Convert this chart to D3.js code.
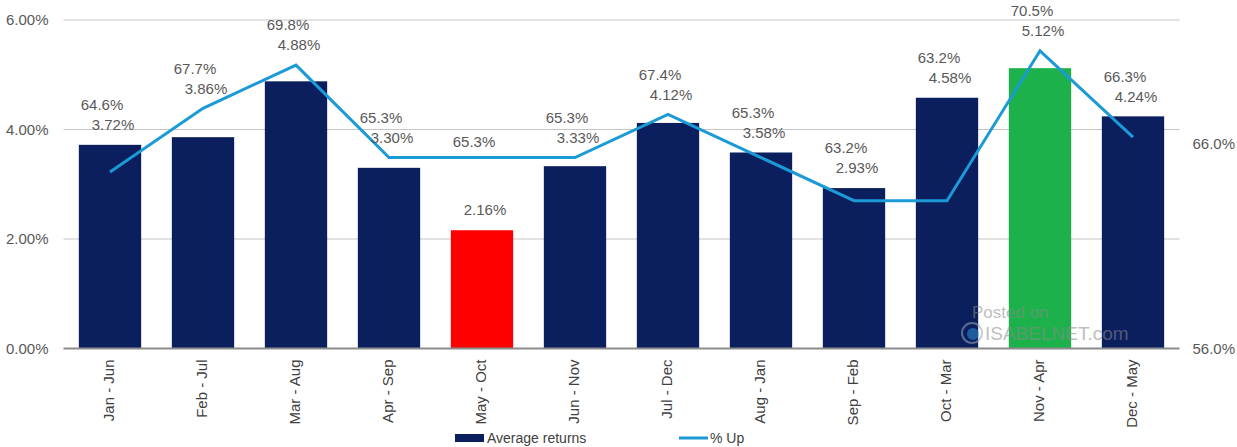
<!DOCTYPE html>
<html><head><meta charset="utf-8">
<script src="https://cdn.jsdelivr.net/npm/d3@7"></script>
<style>
html,body{margin:0;padding:0;background:#fff;}
svg{display:block;}
text{font-family:"Liberation Sans Narrow","Liberation Sans",Arial,sans-serif;}
</style></head>
<body>
<svg id="chart" width="1237" height="447"></svg>
<script>
const categories = ["Jan - Jun","Feb - Jul","Mar - Aug","Apr - Sep","May - Oct","Jun - Nov","Jul - Dec","Aug - Jan","Sep - Feb","Oct - Mar","Nov - Apr","Dec - May"];
const avgReturns = [3.72,3.86,4.88,3.30,2.16,3.33,4.12,3.58,2.93,4.58,5.12,4.24];
const pctUp = [64.6,67.7,69.8,65.3,65.3,65.3,67.4,65.3,63.2,63.2,70.5,66.3];
const leftTicks = [0,2,4,6];
const rightTicks = [56,66];
const highlight = {"May - Oct":"#ff0000","Nov - Apr":"#1db14b"};

const svg = d3.select("#chart");
const W = 1237, H = 447;
const plot = {left:63.5, right:1179.5, top:20, bottom:348.5};

const x = d3.scaleBand().domain(categories).range([plot.left, plot.right]).paddingInner(0.33).paddingOuter(0.165);
const yL = d3.scaleLinear().domain([0,6]).range([plot.bottom, plot.top]);
const yR = d3.scaleLinear().domain([56,72]).range([plot.bottom, plot.top]);
const cx = c => x(c) + x.bandwidth()/2;

const font = "Liberation Sans Narrow, Liberation Sans, Arial, sans-serif";
const textCol = "#595959";

// gridlines
svg.append("g").selectAll("line").data(leftTicks.filter(d=>d>0)).join("line")
  .attr("x1", plot.left).attr("x2", plot.right)
  .attr("y1", d=>yL(d)).attr("y2", d=>yL(d))
  .attr("stroke","#c6c6c6").attr("stroke-width",1.2);

// left axis labels
const axL = d3.axisLeft(yL).tickValues(leftTicks).tickFormat(d=>d3.format(".2f")(d)+"%").tickSize(0).tickPadding(15);
const gL = svg.append("g").attr("transform",`translate(${plot.left},0)`).call(axL);
gL.select(".domain").remove();
gL.selectAll("text").attr("font-size",15).attr("fill",textCol).style("font-family",font);

// right axis labels
const axR = d3.axisRight(yR).tickValues(rightTicks).tickFormat(d=>d3.format(".1f")(d)+"%").tickSize(0).tickPadding(13);
const gR = svg.append("g").attr("transform",`translate(${plot.right},0)`).call(axR);
gR.select(".domain").remove();
gR.selectAll("text").attr("font-size",15).attr("fill",textCol).style("font-family",font);

// bars
svg.append("g").selectAll("rect").data(categories).join("rect")
  .attr("x", c=>x(c)).attr("width", x.bandwidth())
  .attr("y", (c,i)=>yL(avgReturns[i]))
  .attr("height", (c,i)=>yL(0)-yL(avgReturns[i]))
  .attr("fill", c=>highlight[c] || "#0b1f5e");

// baseline axis
svg.append("line").attr("x1",plot.left).attr("x2",plot.right)
  .attr("y1",yL(0)).attr("y2",yL(0)).attr("stroke","#8c8c8c").attr("stroke-width",2);

// x labels
const axB = d3.axisBottom(x).tickSize(0).tickPadding(0);
const gB = svg.append("g").attr("transform",`translate(0,${plot.bottom})`).call(axB);
gB.select(".domain").remove();
gB.selectAll("text")
  .attr("font-size",15).attr("fill","#404040").style("font-family",font)
  .attr("text-anchor","end").attr("dy",null).attr("y",0)
  .attr("transform","translate(0,11) rotate(-90)")
  .attr("dominant-baseline","middle");

// line
const line = d3.line().x((d,i)=>cx(categories[i])).y(d=>yR(d));
svg.append("path").datum(pctUp).attr("d",line)
  .attr("fill","none").attr("stroke","#1b9ad6").attr("stroke-width",3).attr("stroke-linejoin","miter");

// data labels
const fmt2 = d=>d3.format(".2f")(d)+"%";
const fmt1 = d=>d3.format(".1f")(d)+"%";
const labels = categories.map((c,i)=>{
  const bt = yL(avgReturns[i]), ly = yR(pctUp[i]);
  let r, p;
  if (bt - ly > 50) { r = bt - 20; p = ly - 16; }
  else { r = Math.min(bt, ly) - 20; p = r - 20; }
  return {c, r, p, ret: avgReturns[i], up: pctUp[i]};
});
const gLab = svg.append("g").attr("font-size",15).attr("fill",textCol).style("font-family",font).attr("text-anchor","middle");
gLab.selectAll("text.r").data(labels).join("text").attr("class","r")
  .attr("x", d=>cx(d.c)+3).attr("y", d=>d.r).attr("dy","0.35em").text(d=>fmt2(d.ret));
gLab.selectAll("text.p").data(labels).join("text").attr("class","p")
  .attr("x", d=>cx(d.c)-8).attr("y", d=>d.p).attr("dy","0.35em").text(d=>fmt1(d.up));

// legend
const lg = svg.append("g").attr("font-size",14).attr("fill","#404040").style("font-family",font);
lg.append("rect").attr("x",455).attr("y",434).attr("width",29).attr("height",8).attr("fill","#0b1f5e");
lg.append("text").attr("x",487).attr("y",438).attr("dy","0.35em").text("Average returns");
lg.append("line").attr("x1",679).attr("x2",708).attr("y1",438).attr("y2",438).attr("stroke","#1b9ad6").attr("stroke-width",3);
lg.append("text").attr("x",710).attr("y",438).attr("dy","0.35em").text("% Up");

// watermark
const wm = svg.append("g").attr("opacity",0.55).style("font-family","Liberation Sans, Arial, sans-serif");
wm.append("text").attr("x",972).attr("y",318).attr("font-size",17).attr("fill","#8a8a8a").text("Posted on");
wm.append("circle").attr("cx",972).attr("cy",333).attr("r",10).attr("fill","none").attr("stroke","#9aa9b8").attr("stroke-width",2);
wm.append("circle").attr("cx",973).attr("cy",334).attr("r",6).attr("fill","#2f8fd0");
wm.append("text").attr("x",985).attr("y",340).attr("font-size",19).attr("fill","#8a8a8a").text("ISABELNET.com");
</script>
</body></html>
